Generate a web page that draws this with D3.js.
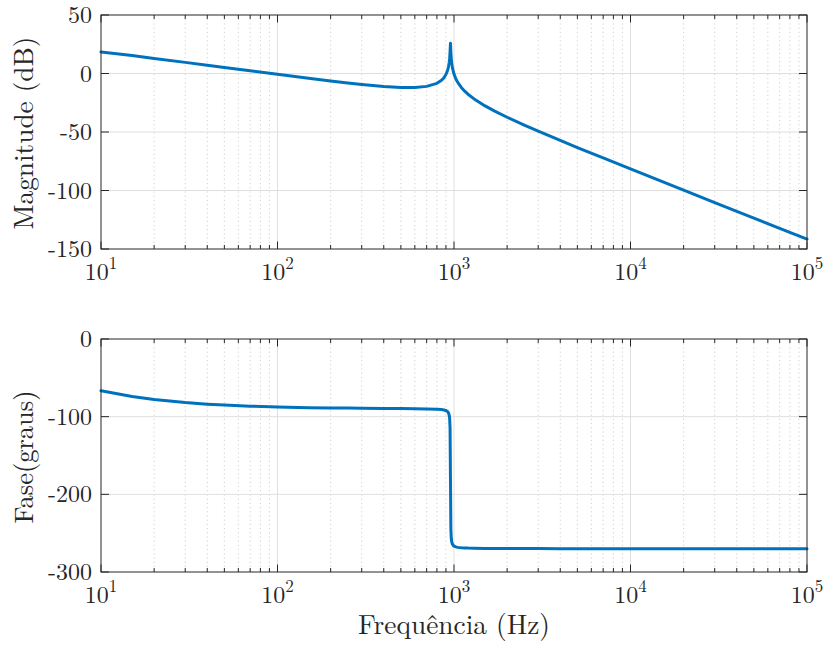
<!DOCTYPE html>
<html>
<head>
<meta charset="utf-8">
<script src="https://cdn.jsdelivr.net/npm/d3@7"></script>
<style>
  html, body { margin: 0; padding: 0; background: #ffffff; }
  svg { display: block; }
</style>
</head>
<body>
<svg id="chart" width="824" height="646"></svg>
<script>
// ---- data ----
const freqHz = [10, 15, 20, 30, 40, 50, 70, 100, 150, 200, 250, 300, 400, 500, 600, 700, 800, 850, 875, 900, 920, 930, 940, 945, 950, 955, 960, 965, 970, 980, 1000, 1025, 1050, 1100, 1150, 1200, 1300, 1500, 1700, 2000, 2500, 3000, 4000, 5000, 7000, 10000, 20000, 30000, 50000, 70000, 100000];
const magnitudeDb = [18.4, 15.3, 12.9, 9.5, 7.1, 5.2, 2.3, -0.7, -4.1, -6.5, -8.2, -9.5, -11.2, -12.0, -12.0, -11.0, -8.4, -5.8, -3.8, -0.9, 2.8, 5.5, 9.7, 13.1, 18.4, 25.8, 18.2, 12.8, 9.3, 4.8, -0.5, -4.7, -7.6, -11.9, -15.1, -17.7, -21.7, -27.7, -32.2, -37.4, -44.1, -49.3, -57.2, -63.3, -72.2, -81.6, -99.7, -110.3, -123.6, -132.3, -141.6];
const phaseDeg = [-66.7, -74.0, -77.9, -81.8, -83.9, -85.1, -86.5, -87.5, -88.4, -88.8, -89.0, -89.2, -89.4, -89.5, -89.9, -90.1, -90.5, -90.9, -91.4, -92.1, -93.5, -95.0, -98.5, -102.8, -114.7, -179.7, -244.6, -256.5, -260.8, -264.3, -266.8, -267.7, -268.3, -268.8, -269.0, -269.2, -269.4, -269.6, -269.7, -269.8, -269.9, -269.9, -269.95, -269.95, -270, -270, -270, -270, -270, -270, -270];
const xDecades = [1, 2, 3, 4, 5];
const magTicks = [50, 0, -50, -100, -150];
const phaseTicks = [0, -100, -200, -300];
const xLabel = "Frequência (Hz)";
const magLabel = "Magnitude (dB)";
const phaseLabel = "Fase(graus)";

// ---- layout ----
const svg = d3.select("#chart");
const L = 101, R = 807;
const FONT = '"Latin Modern Roman"';
const panels = [
  { top: 15, bottom: 249, domain: [-150, 50], ticks: magTicks, values: magnitudeDb, label: magLabel, labelLen: 193, labelCenter: 133 },
  { top: 339, bottom: 572, domain: [-300, 0], ticks: phaseTicks, values: phaseDeg, label: phaseLabel, labelLen: 133, labelCenter: 457 }
];
const x = d3.scaleLog().domain([10, 1e5]).range([L, R]);
const minorTicks = [];
for (let d = 1; d < 5; d++) for (let k = 2; k <= 9; k++) minorTicks.push(k * Math.pow(10, d));
const majorTicks = xDecades.map(e => Math.pow(10, e));

const axisColor = "#262626";

function fitText(sel, target, base) {
  sel.style("font-size", base + "px");
  const w = sel.node().getComputedTextLength();
  sel.style("font-size", (base * target / w) + "px");
}

panels.forEach(p => {
  const y = d3.scaleLinear().domain(p.domain).range([p.bottom, p.top]);
  const g = svg.append("g");

  // minor grid (x only, dotted)
  g.selectAll(".mg").data(minorTicks).enter().append("line")
    .attr("x1", d => x(d)).attr("x2", d => x(d))
    .attr("y1", p.top).attr("y2", p.bottom)
    .attr("stroke", "#c4c4c4").attr("stroke-width", 0.8)
    .attr("stroke-dasharray", "1.2,3");
  // major grid x
  g.selectAll(".gx").data(majorTicks.slice(1, -1)).enter().append("line")
    .attr("x1", d => x(d)).attr("x2", d => x(d))
    .attr("y1", p.top).attr("y2", p.bottom)
    .attr("stroke", "#dfdfdf").attr("stroke-width", 1);
  // major grid y
  g.selectAll(".gy").data(p.ticks.filter(t => t !== p.domain[0] && t !== p.domain[1])).enter().append("line")
    .attr("x1", L).attr("x2", R)
    .attr("y1", d => y(d)).attr("y2", d => y(d))
    .attr("stroke", "#dfdfdf").attr("stroke-width", 1);

  // data line
  const line = d3.line().x((d, i) => x(freqHz[i])).y(d => y(d));
  g.append("path").datum(p.values)
    .attr("d", line)
    .attr("fill", "none")
    .attr("stroke", "#0072BD")
    .attr("stroke-width", 3)
    .attr("stroke-linejoin", "round")
    .attr("stroke-linecap", "round");

  // box
  g.append("rect").attr("x", L).attr("y", p.top)
    .attr("width", R - L).attr("height", p.bottom - p.top)
    .attr("fill", "none").attr("stroke", axisColor).attr("stroke-width", 1);

  // x ticks bottom & top
  [[p.bottom, -1], [p.top, 1]].forEach(([yy, dir]) => {
    g.selectAll(null).data(minorTicks).enter().append("line")
      .attr("x1", d => x(d)).attr("x2", d => x(d))
      .attr("y1", yy).attr("y2", yy + dir * 4)
      .attr("stroke", axisColor).attr("stroke-width", 1);
    g.selectAll(null).data(majorTicks).enter().append("line")
      .attr("x1", d => x(d)).attr("x2", d => x(d))
      .attr("y1", yy).attr("y2", yy + dir * 7.5)
      .attr("stroke", axisColor).attr("stroke-width", 1);
  });
  // y ticks left & right
  [[L, 1], [R, -1]].forEach(([xx, dir]) => {
    g.selectAll(null).data(p.ticks).enter().append("line")
      .attr("x1", xx).attr("x2", xx + dir * 8)
      .attr("y1", d => y(d)).attr("y2", d => y(d))
      .attr("stroke", axisColor).attr("stroke-width", 1);
  });

  // y tick labels
  g.selectAll(".yl").data(p.ticks).enter().append("text")
    .attr("x", 92).attr("y", d => y(d) + 8)
    .attr("text-anchor", "end")
    .style("font-family", FONT)
    .style("font-size", "24px")
    .attr("fill", axisColor)
    .text(d => d < 0 ? "-" + Math.abs(d) : String(d));

  // x tick labels (10^n)
  const xl = g.selectAll(".xl").data(xDecades).enter().append("text")
    .attr("x", d => x(Math.pow(10, d)))
    .attr("y", p.bottom + 30.5)
    .attr("text-anchor", "middle")
    .style("font-family", FONT)
    .style("font-size", "24px")
    .attr("fill", axisColor);
  xl.append("tspan").text("10");
  xl.append("tspan").attr("dy", -11).style("font-size", "17px").text(d => d);

  // y label
  const yl = g.append("text")
    .attr("transform", `translate(33,${p.labelCenter}) rotate(-90)`)
    .attr("text-anchor", "middle")
    .style("font-family", FONT)
    .attr("fill", axisColor)
    .text(p.label);
  fitText(yl, p.labelLen, 26);
});

// x label
const xlab = svg.append("text")
  .attr("x", (L + R) / 2).attr("y", 634)
  .attr("text-anchor", "middle")
  .style("font-family", FONT)
  .attr("fill", axisColor)
  .text(xLabel);
fitText(xlab, 192, 26);
</script>
</body>
</html>
